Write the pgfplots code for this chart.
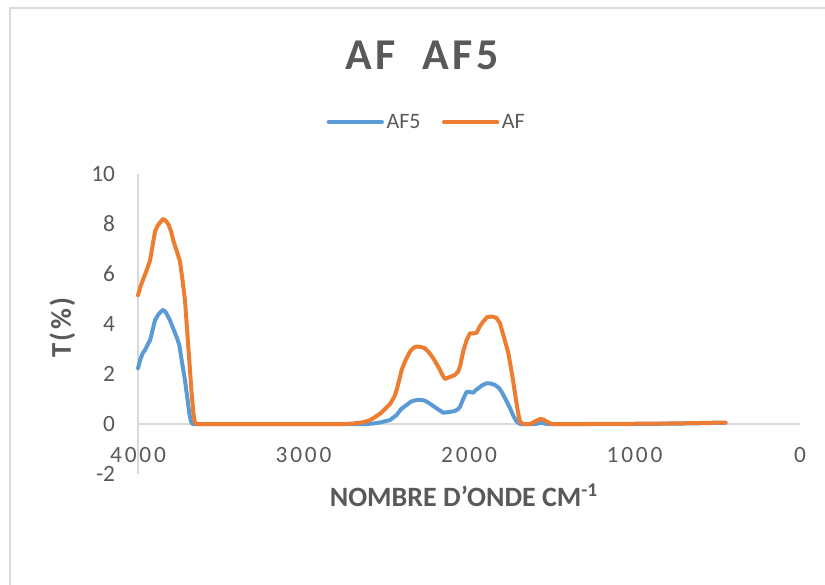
\documentclass[border=0pt]{standalone}
\usepackage{fontspec}
\setmainfont{Carlito}
\newfontfamily\spacedfont[LetterSpace=12]{Carlito}
\newfontfamily\titlefont[LetterSpace=8]{Carlito}
\usepackage{pgfplots}
\pgfplotsset{compat=1.18}

\definecolor{afblue}{HTML}{5B9BD5}
\definecolor{aforange}{HTML}{ED7D31}
\definecolor{txtgray}{HTML}{595959}
\definecolor{linegray}{HTML}{D9D9D9}

% FTIR transmittance spectra, wavenumber (cm^-1) vs T (%)
\pgfplotstableread{
x y
4000 2.23
3985 2.60
3970 2.85
3958 2.95
3940 3.20
3927 3.35
3910 3.80
3897 4.15
3875 4.40
3860 4.50
3847 4.57
3830 4.45
3807 4.15
3780 3.70
3765 3.45
3750 3.15
3735 2.50
3716 1.75
3700 0.95
3690 0.43
3680 0.10
3670 0.00
2620 0.00
2578 0.02
2530 0.07
2477 0.16
2437 0.36
2410 0.60
2377 0.76
2350 0.90
2316 0.96
2290 0.97
2266 0.93
2240 0.83
2216 0.72
2185 0.58
2155 0.45
2120 0.48
2085 0.52
2065 0.60
2054 0.69
2035 1.00
2014 1.29
1994 1.28
1974 1.25
1960 1.35
1944 1.43
1920 1.55
1893 1.63
1870 1.62
1843 1.56
1820 1.45
1803 1.29
1780 1.00
1752 0.63
1730 0.30
1712 0.10
1692 0.00
1600 0.00
1561 0.05
1530 0.00
1000 0.00
700 0.02
450 0.05
}\afcinq

\pgfplotstableread{
x y
4000 5.15
3985 5.50
3968 5.80
3950 6.10
3927 6.55
3910 7.20
3897 7.70
3880 7.95
3867 8.05
3850 8.20
3835 8.15
3817 8.00
3800 7.70
3787 7.35
3765 6.90
3746 6.50
3730 5.70
3716 4.95
3696 3.10
3676 1.23
3665 0.40
3656 0.05
3640 0.00
2750 0.00
2700 0.02
2639 0.07
2600 0.15
2578 0.23
2530 0.45
2477 0.80
2450 1.10
2437 1.36
2420 1.80
2407 2.16
2380 2.60
2356 2.90
2335 3.05
2316 3.10
2290 3.08
2266 3.03
2240 2.85
2216 2.63
2195 2.40
2175 2.16
2160 1.95
2145 1.80
2115 1.88
2085 1.96
2065 2.10
2054 2.30
2035 2.90
2014 3.36
1994 3.63
1974 3.62
1954 3.65
1935 3.90
1914 4.10
1890 4.28
1860 4.30
1835 4.25
1813 4.03
1790 3.50
1762 2.83
1740 2.00
1722 1.23
1705 0.50
1692 0.10
1672 0.00
1631 0.00
1600 0.10
1571 0.20
1550 0.18
1531 0.10
1510 0.03
1491 0.00
1300 0.00
1000 0.01
800 0.02
600 0.04
450 0.06
}\af

\begin{document}
\begin{tikzpicture}[x=0.75pt,y=-0.75pt]
  \path[use as bounding box] (0,0) rectangle (825,585);
  % chart frame
  \draw[linegray,line width=1.5pt] (10,585) -- (10,8) -- (825,8);
  \coordinate (plotorigin) at (138,474);

  \begin{axis}[
    at={(plotorigin)}, anchor=south west,
    scale only axis, width=496.5pt, height=225pt,
    xmin=0, xmax=4000, x dir=reverse,
    ymin=-2, ymax=10,
    xtick={0,1000,2000,3000,4000},
    ytick={-2,0,2,4,6,8,10},
    axis line style={draw=none},
    major tick length=0pt,
    /pgf/number format/assume math mode=true,
    /pgf/number format/1000 sep={},
    xticklabel style={anchor=center, yshift=14.25pt, inner sep=0pt,
      font=\spacedfont\fontsize{17.5}{20}\selectfont, text=txtgray},
    yticklabel style={anchor=east, xshift=-17pt, inner sep=0pt,
      font=\fontsize{17.5}{20}\selectfont, text=txtgray},
    xlabel={NOMBRE D’ONDE CM\textsuperscript{-1}},
    ylabel={T(\%)},
    xlabel style={at={(axis description cs:0.4924,-0.07)}, anchor=center,
      font=\bfseries\fontsize{21}{24}\selectfont, text=txtgray},
    ylabel style={at={(axis description cs:-0.114,0.488)}, anchor=center,
      font=\titlefont\bfseries\fontsize{21.5}{24}\selectfont, text=txtgray},
    legend columns=2,
    legend style={at={(0.4366,1.173)}, anchor=center, draw=none, fill=none,
      font=\fontsize{16.5}{19}\selectfont, text=txtgray,
      /tikz/every even column/.append style={column sep=14pt}},
    legend image code/.code={\draw[#1,line cap=round] (0pt,0pt) -- (40pt,0pt);},
    clip=false,
  ]
    \draw[linegray,line width=1.2pt] (axis cs:4000,-2) -- (axis cs:4000,10);
    \draw[linegray,line width=1.2pt] (axis cs:4000,0) -- (axis cs:0,0);
    \addplot[afblue, line width=3pt, line join=round, line cap=round] table {\afcinq};
    \addlegendentry{AF5}
    \addplot[aforange, line width=3pt, line join=round, line cap=round] table {\af};
    \addlegendentry{AF}
  \end{axis}

  \node[text=txtgray, font=\titlefont\bfseries\fontsize{33}{38}\selectfont]
    at (422,55) {AF\hspace{20pt}AF5};
\end{tikzpicture}
\end{document}
